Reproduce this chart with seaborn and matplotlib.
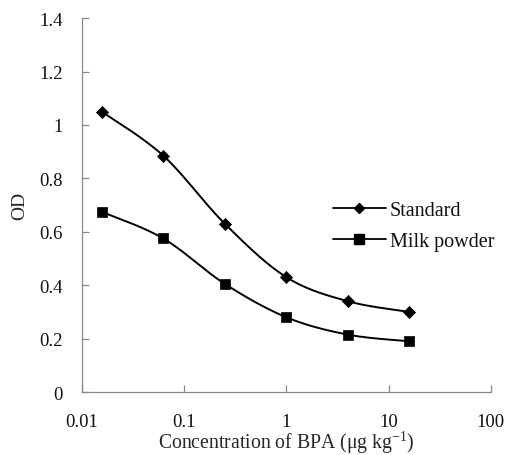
import numpy as np
import pandas as pd
import matplotlib
matplotlib.use("Agg")
import matplotlib.pyplot as plt
import seaborn as sns
from matplotlib.lines import Line2D

conc = [0.015625, 0.0625, 0.25, 1, 4, 16]
standard = [1.05, 0.885, 0.63, 0.43, 0.34, 0.30]
milk = [0.675, 0.575, 0.405, 0.28, 0.215, 0.19]
series_names = ["Standard", "Milk powder"]
xticks = [0.01, 0.1, 1, 10, 100]
xticklabels = ["0.01", "0.1", "1", "10", "100"]
yticks = [0, 0.2, 0.4, 0.6, 0.8, 1.0, 1.2, 1.4]
yticklabels = ["0", "0.2", "0.4", "0.6", "0.8", "1", "1.2", "1.4"]


def smooth(xs, ys, n=30):
    # Excel-like smoothed line: cubic Bezier through points (in log-x space)
    lx = np.log10(np.asarray(xs, float))
    y = np.asarray(ys, float)
    sx = 102.0
    sy = 267.0
    px = lx * sx
    py = y * sy
    outx, outy = [], []
    m = len(px)
    t = np.linspace(0, 1, n)
    for i in range(m - 1):
        p0 = np.array([px[max(i - 1, 0)], py[max(i - 1, 0)]])
        p1 = np.array([px[i], py[i]])
        p2 = np.array([px[i + 1], py[i + 1]])
        p3 = np.array([px[min(i + 2, m - 1)], py[min(i + 2, m - 1)]])
        c1 = p1 + (p2 - p0) / 6.0
        c2 = p2 - (p3 - p1) / 6.0
        for tt in t:
            b = ((1 - tt) ** 3) * p1 + 3 * ((1 - tt) ** 2) * tt * c1 + 3 * (1 - tt) * tt ** 2 * c2 + tt ** 3 * p2
            outx.append(b[0])
            outy.append(b[1])
    return 10 ** (np.array(outx) / sx), np.array(outy) / sy


sns.set_style("white")
plt.rcParams["font.family"] = ["Liberation Serif", "DejaVu Serif"]
plt.rcParams["mathtext.fontset"] = "custom"
plt.rcParams["mathtext.rm"] = "Liberation Serif"
plt.rcParams["text.color"] = "#111111"

fig = plt.figure(figsize=(5.06, 4.56), dpi=100)
ax = fig.add_axes([0.162, 0.138, 0.808, 0.820])

markers = ["D", "s"]
msizes = [38, 52]
for name, vals, mk, ms in zip(series_names, [standard, milk], markers, msizes):
    sx_, sy_ = smooth(conc, vals)
    df_line = pd.DataFrame({"x": sx_, "y": sy_})
    sns.lineplot(data=df_line, x="x", y="y", ax=ax, color="black", lw=1.4, sort=False,
                 estimator=None)
    df_pts = pd.DataFrame({"x": conc, "y": vals})
    sns.scatterplot(data=df_pts, x="x", y="y", ax=ax, marker=mk, color="black",
                    s=ms, edgecolor="black", linewidth=0.5, zorder=3)

ax.set_xscale("log")
ax.set_xlim(0.01, 100)
ax.set_ylim(0, 1.4)
ax.set_xticks(xticks)
ax.set_xticklabels(xticklabels)
ax.xaxis.set_minor_locator(matplotlib.ticker.NullLocator())
ax.set_yticks(yticks)
ax.set_yticklabels(yticklabels)
ax.tick_params(axis="both", which="major", direction="in", length=5, width=0.9,
               color="#888888", labelsize=13.5, labelcolor="#111111",
               bottom=True, left=True)
ax.tick_params(axis="y", pad=14)
ax.tick_params(axis="x", pad=15)
for side in ["top", "right"]:
    ax.spines[side].set_visible(False)
for side in ["left", "bottom"]:
    ax.spines[side].set_color("#888888")
    ax.spines[side].set_linewidth(0.9)

ax.set_xlabel("Concentration of BPA (μg kg$^{-1}$)", fontsize=14.2)
ax.xaxis.set_label_coords(0.5, -0.097)
ax.set_ylabel("OD", fontsize=14, labelpad=8)

handles = [Line2D([], [], color="black", lw=1.3, marker="D", markersize=5.5),
           Line2D([], [], color="black", lw=1.3, marker="s", markersize=6.5)]
ax.legend(handles, series_names, loc="upper left", bbox_to_anchor=(0.57, 0.56),
          frameon=False, fontsize=14.5, handlelength=2.6, handletextpad=0.2,
          labelspacing=0.6)

fig.savefig("out.png", dpi=100)
